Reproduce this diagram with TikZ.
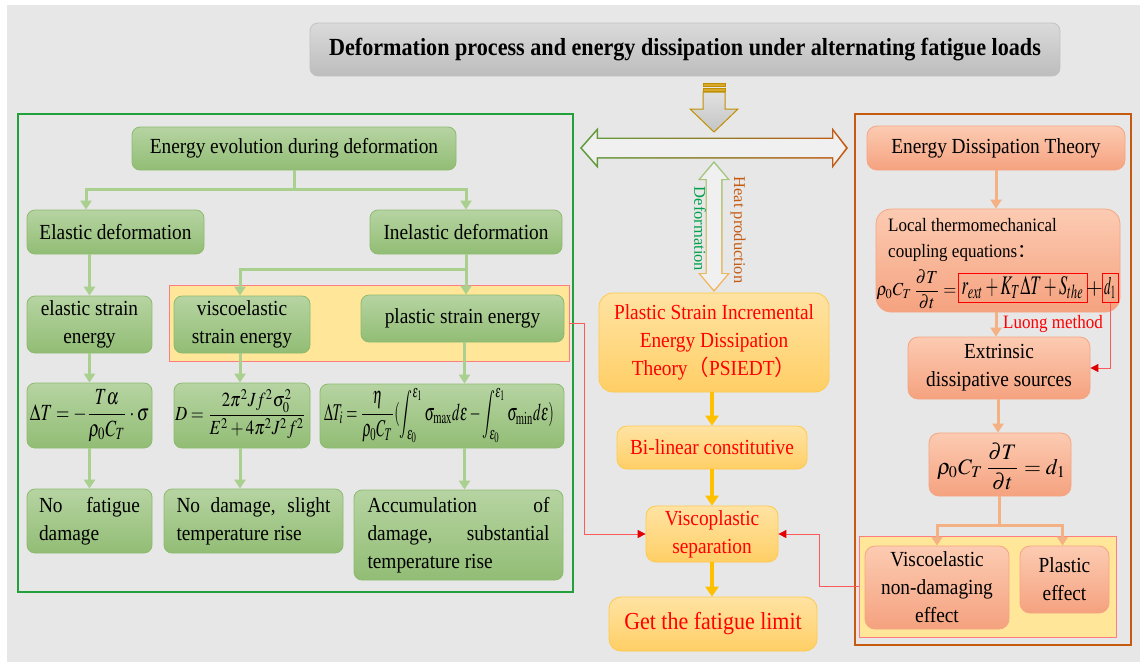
\documentclass[tikz,border=0pt]{standalone}
\usepackage{mathptmx}
\usepackage[no-math]{fontspec}
\setmainfont{Liberation Serif}[FakeStretch=0.9]
\newfontfamily\plainserif{Liberation Serif}
\newfontfamily\cjk{Noto Sans CJK SC}
\usepackage{graphicx}
\usetikzlibrary{arrows.meta}
\definecolor{bg}{HTML}{E7E7E7}
\definecolor{gTop}{HTML}{B6D4A2}
\definecolor{gBot}{HTML}{92BD75}
\definecolor{gBrd}{HTML}{8DBA6F}
\definecolor{gArr}{HTML}{A9D08E}
\definecolor{gFrame}{HTML}{22A03C}
\definecolor{oFrame}{HTML}{C55A11}
\definecolor{yTop}{HTML}{FFE3A3}
\definecolor{yBot}{HTML}{FFCF66}
\definecolor{yBrd}{HTML}{FFC94A}
\definecolor{yArr}{HTML}{FFC000}
\definecolor{sTop}{HTML}{FCCBB2}
\definecolor{sBot}{HTML}{F5A27F}
\definecolor{sBrd}{HTML}{F4A582}
\definecolor{sArr}{HTML}{F4B183}
\definecolor{hl}{HTML}{FFE699}
\definecolor{hlBrd}{HTML}{FF7C80}
\definecolor{redline}{HTML}{FF5A5A}
\definecolor{redtip}{HTML}{E00000}
\definecolor{redtext}{HTML}{FF0000}
\definecolor{tTop}{HTML}{DADADA}
\definecolor{tBot}{HTML}{BDBDBD}
\definecolor{tBrd}{HTML}{C2C2C2}
\definecolor{darkgold}{HTML}{BF9000}
\definecolor{gold2}{HTML}{D9A92E}
\definecolor{hG}{HTML}{5E9E3E}
\definecolor{hM}{HTML}{D2C48A}
\definecolor{deform}{HTML}{00A04A}
\definecolor{heat}{HTML}{C55A11}
\definecolor{arrfill}{HTML}{F0F0F0}
\begin{document}
\begin{tikzpicture}[x=1pt,y=-1pt,
  gbox/.style={draw=gBrd, line width=0.8pt, rounded corners=8pt, top color=gTop, bottom color=gBot, inner sep=0pt, align=center, font=\fontsize{21.5}{28}\selectfont},
  ybox/.style={draw=yBrd, line width=0.8pt, rounded corners=10pt, top color=yTop, bottom color=yBot, inner sep=0pt, align=center, text=redtext, font=\fontsize{21.5}{28}\selectfont},
  sbox/.style={draw=sBrd, line width=0.8pt, rounded corners=10pt, top color=sTop, bottom color=sBot, inner sep=0pt, align=center, font=\fontsize{21.5}{28}\selectfont},
  hlbox/.style={draw=hlBrd, line width=0.8pt, fill=hl, inner sep=0pt},
  panelframe/.style={line width=1.5pt, inner sep=0pt},
  gline/.style={draw=gArr, line width=3pt},
  garrow/.style={gline, -{Triangle[length=9pt,width=11pt]}},
  sline/.style={draw=sArr, line width=3pt},
  sarrow/.style={sline, -{Triangle[length=9pt,width=11pt]}},
  yarrow/.style={draw=yArr, line width=4pt, -{Triangle[length=10pt,width=13pt]}},
  redc/.style={draw=redline, line width=1pt, -{Triangle[length=8pt,width=8pt,color=redtip]}},
  formula/.style={inner sep=0pt},
]
% background
\fill[white] (0,0) rectangle (1140,662);
\fill[bg] (7,5) rectangle (1140,662);
\useasboundingbox (0,0) rectangle (1140,662);

% title
\node[draw=tBrd, line width=0.8pt, rounded corners=8pt, top color=tTop, bottom color=tBot,
  minimum width=750, minimum height=53, inner sep=0pt,
  font=\fontsize{24.6}{29}\selectfont\bfseries] (title) at (685,49.5)
  {Deformation process and energy dissipation under alternating fatigue loads};

% down arrow under title
\path[top color=white!88!black, bottom color=white!77!black, draw=darkgold, line width=1pt]
  (703,92) -- (725,92) -- (725,109) -- (738,109) -- (714,132) -- (690,109) -- (703,109) -- cycle;
\filldraw[fill=gold2, draw=darkgold, line width=0.8pt] (703,83) rectangle (725,86.5);
\filldraw[fill=gold2, draw=darkgold, line width=0.8pt] (703,88.5) rectangle (725,91);

% frames
\node[panelframe, draw=gFrame, minimum width=555, minimum height=478] (frameL) at (295.5,353) {};
\node[panelframe, draw=oFrame, minimum width=276, minimum height=531] (frameR) at (993,379.5) {};

% horizontal double arrow
\path[left color=hG, middle color=hM, right color=oFrame]
  (580,148) -- (598,127.5) -- (598,137.5) -- (832,137.5) -- (832,127.5) -- (848,148)
  -- (832,168.5) -- (832,158.5) -- (598,158.5) -- (598,168.5) -- cycle;
\fill[arrfill]
  (582.2,148) -- (596.6,131.6) -- (596.6,139) -- (833.4,139) -- (833.4,131.8) -- (845.8,148)
  -- (833.4,164.2) -- (833.4,157) -- (596.6,157) -- (596.6,164.4) -- cycle;

% vertical double arrow
\path[top color=gArr!80!hG, bottom color=sArr!70!yArr]
  (714,161) -- (730,180) -- (722.5,180) -- (722.5,273) -- (730,273) -- (714,292)
  -- (698,273) -- (705.5,273) -- (705.5,180) -- (698,180) -- cycle;
\fill[arrfill]
  (714,163.3) -- (727.2,178.8) -- (721.2,178.8) -- (721.2,274.2) -- (727.2,274.2) -- (714,289.7)
  -- (700.8,274.2) -- (706.8,274.2) -- (706.8,178.8) -- (700.8,178.8) -- cycle;
\node[rotate=-90, text=deform, inner sep=0pt, font=\plainserif\fontsize{16.5}{18}\selectfont] (deftxt) at (700,229) {Deformation};
\node[rotate=-90, text=heat, inner sep=0pt, font=\plainserif\fontsize{16.5}{18}\selectfont] (heattxt) at (738,230) {Heat production};

% ---------------- left panel ----------------
\node[hlbox, minimum width=400, minimum height=76] (hlL) at (369,323) {};
\node[gbox, minimum width=324, minimum height=43] (ee) at (294,148.5) {Energy evolution during deformation};
\node[gbox, minimum width=177, minimum height=44] (ed) at (115.5,232) {Elastic deformation};
\node[gbox, minimum width=192, minimum height=44] (id) at (466,232) {Inelastic deformation};
\node[gbox, minimum width=125, minimum height=57] (ese) at (89.5,324.5) {elastic strain\\energy};
\node[gbox, minimum width=136, minimum height=57] (vse) at (242,324.5) {viscoelastic\\strain energy};
\node[gbox, minimum width=203, minimum height=47] (pse) at (462.5,318.5) {plastic strain energy};
\node[gbox, minimum width=125, minimum height=65] (f1) at (89.5,415.5) {};
\node[gbox, minimum width=136, minimum height=65] (f2) at (242,415.5) {};
\node[gbox, minimum width=244, minimum height=64] (f3) at (442,416) {};
\node[formula] (f1t) at (89.5,415.5) {\resizebox*{119pt}{52pt}{$\displaystyle \Delta T=-\frac{T\alpha}{\rho_0 C_T}\cdot\sigma$}};
\node[formula] (f2t) at (240.5,414) {\resizebox*{131pt}{49pt}{$\displaystyle D=\frac{2\pi^2 Jf^2\sigma_0^2}{E^2+4\pi^2J^2f^2}$}};
\node[formula] (f3t) at (439,415.5) {\resizebox*{230pt}{55pt}{$\displaystyle \Delta T_i=\frac{\eta}{\rho_0 C_T}(\int_{\varepsilon_0}^{\varepsilon_1}\sigma_{\max}d\varepsilon-\int_{\varepsilon_0}^{\varepsilon_1}\sigma_{\min}d\varepsilon)$}};
\node[gbox, align=left, minimum width=125, minimum height=64] (nf) at (89.5,521)
  {\makebox[101pt][s]{No fatigue}\\damage};
\node[gbox, align=left, minimum width=179, minimum height=64] (nd) at (253.5,521)
  {\makebox[154pt][s]{No damage, slight}\\temperature rise};
\node[gbox, align=left, minimum width=209, minimum height=90] (ac) at (458.5,535)
  {\makebox[182pt][s]{Accumulation of}\\\makebox[182pt][s]{damage, substantial}\\temperature rise};

\coordinate (eeb) at (294,189);
\draw[gline] (ee.south) -- (eeb);
\draw[garrow] (eeb) -| ([xshift=-29.5pt]ed.north);
\draw[garrow] (eeb) -| (id.north);
\coordinate (idb) at (466,269);
\draw[gline] (id.south) -- (idb);
\draw[garrow] (idb) -| ([xshift=-2pt]vse.north);
\draw[garrow] (idb) -- (idb |- pse.north);
\draw[garrow] (ese.north |- ed.south) -- (ese.north);
\draw[garrow] (ese.south) -- (f1.north);
\draw[garrow] ([xshift=-2pt]vse.south) -- ([xshift=-2pt]vse.south |- f2.north);
\draw[garrow] ([xshift=2pt]pse.south) -- ([xshift=2pt]pse.south |- f3.north);
\draw[garrow] (f1.south) -- (nf.north);
\draw[garrow] ([xshift=-2pt]vse.south |- f2.south) -- ([xshift=-2pt]vse.south |- nd.north);
\draw[garrow] ([xshift=2pt]pse.south |- f3.south) -- ([xshift=2pt]pse.south |- ac.north);

% ---------------- centre column ----------------
\node[ybox, rounded corners=14pt, minimum width=230, minimum height=99] (psi) at (714,342.5)
  {Plastic Strain Incremental\\Energy Dissipation\\Theory{\cjk （}PSIEDT{\cjk ）}};
\node[ybox, minimum width=190, minimum height=43] (bl) at (712,447.5) {Bi-linear constitutive};
\node[ybox, minimum width=132, minimum height=56] (vs) at (712,534) {Viscoplastic\\separation};
\node[ybox, rounded corners=12pt, minimum width=208, minimum height=54, font=\fontsize{24.4}{29}\selectfont] (gf) at (713,624) {Get the fatigue limit};
\draw[yarrow] (bl.north |- psi.south) -- (bl.north);
\draw[yarrow] (bl.south) -- (vs.north);
\draw[yarrow] (vs.south) -- (vs.south |- gf.north);

% ---------------- right panel ----------------
\node[hlbox, minimum width=257, minimum height=101] (hlR) at (987.5,586.5) {};
\node[sbox, minimum width=258, minimum height=44] (edt) at (996,148) {Energy Dissipation Theory};
\node[sbox, rounded corners=15pt, minimum width=244, minimum height=103] (loc) at (998,260.5) {};
\node[anchor=west, align=left, inner sep=0pt, font=\fontsize{18.9}{26}\selectfont] (loctxt) at (888,240)
  {Local thermomechanical\\coupling equations{\cjk ：}};
\node[formula] (eqA) at (916.5,289) {\resizebox*{80pt}{39pt}{$\displaystyle \rho_0 C_T\,\frac{\partial T}{\partial t}=$}};
\node[draw=red, line width=1pt, inner sep=0pt, minimum width=129, minimum height=29] (rb1) at (1022.5,287.5)
  {\resizebox*{122pt}{23pt}{$r_{ext}+K_T\Delta T+S_{the}$}};
\node[formula, font=\fontsize{22}{22}\selectfont] (plus) at (1094.5,289) {$+$};
\node[draw=red, line width=1pt, inner sep=0pt, minimum width=16, minimum height=29] (rb2) at (1110,287.5)
  {\resizebox*{12pt}{21pt}{$d_1$}};
\node[text=redtext, inner sep=0pt, font=\fontsize{18.9}{20}\selectfont] (luong) at (1053,324) {Luong method};
\node[sbox, minimum width=182, minimum height=62] (ext) at (999,368) {Extrinsic\\dissipative sources};
\node[sbox, minimum width=142, minimum height=63] (eq) at (1000,464.5) {};
\node[formula] (eqt) at (1001.5,466.5) {\resizebox*{129pt}{47pt}{$\displaystyle \rho_0 C_T\,\frac{\partial T}{\partial t}=d_1$}};
\node[sbox, minimum width=144, minimum height=83] (vnd) at (937,587.5) {Viscoelastic\\non-damaging\\effect};
\node[sbox, minimum width=89, minimum height=67] (pe) at (1064.5,579.5) {Plastic\\effect};

\draw[sarrow] (edt.south) -- (edt.south |- loc.north);
\draw[sarrow] (edt.south |- loc.south) -- (edt.south |- ext.north);
\draw[sarrow] ([xshift=-1pt]ext.south) -- ([xshift=-1pt]ext.south |- eq.north);
\coordinate (eqb) at (999,525);
\draw[sline] ([xshift=-1pt]eq.south) -- (eqb);
\draw[sarrow] (eqb) -| (vnd.north);
\draw[sarrow] (eqb) -| ([xshift=-2pt]pe.north);

% red connectors
\draw[redc] (rb2.south) |- (ext.east);
\draw[redc] (hlL.east) -- (584,323) |- (vs.west);
\draw[redc] (hlR.west) -- (819,586.5) |- (vs.east);
\end{tikzpicture}
\end{document}
